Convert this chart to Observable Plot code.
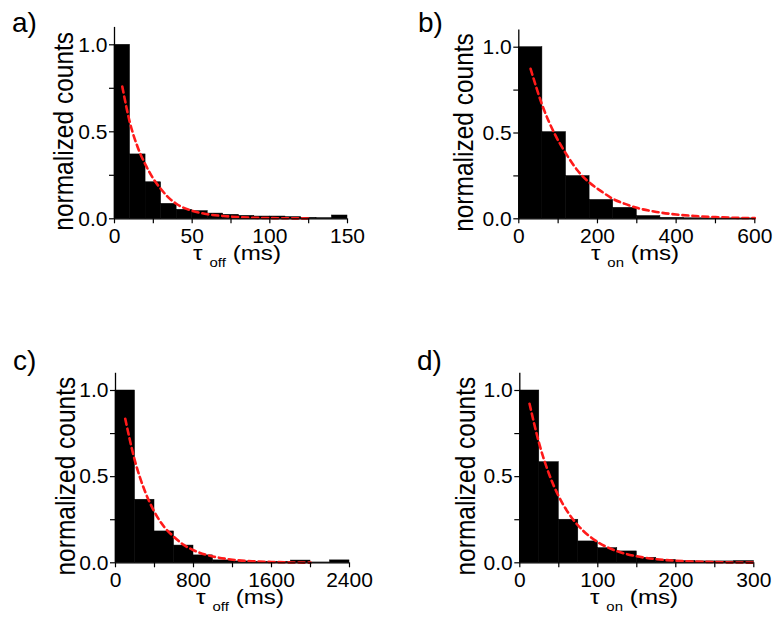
<!DOCTYPE html>
<html><head><meta charset="utf-8">
<script src="https://cdn.jsdelivr.net/npm/d3@7"></script>
<script src="https://cdn.jsdelivr.net/npm/@observablehq/plot@0.6"></script>
<style>
body{margin:0;background:#fff;}
#wrap{position:relative;width:775px;height:620px;overflow:hidden;background:#fff;}
#wrap svg{position:absolute;overflow:visible;}
</style></head><body><div id="wrap"></div>
<script>
// ---- data ----
const panelNames = ["a)", "b)", "c)", "d)"];
const xSubs = ["off", "on", "off", "on"];
const yTickMajor = [0, 0.5, 1.0];
const yTickMinor = [0.25, 0.75];

// a) tau_off histogram
const aEdges = [0,10,20,30,40,50,60,70,80,90,100,110,120,130,140,150];
const aCounts = [1.0,0.37,0.21,0.086,0.052,0.044,0.03,0.023,0.017,0.013,0.013,0.01,0.006,0.004,0.019];
const aFitT = [5,10,15,20,25,30,35,40,50,60,70,80,90,100,110,125];
const aFitY = [0.76,0.55,0.41,0.31,0.23,0.17,0.12,0.085,0.046,0.026,0.016,0.01,0.006,0.004,0.003,0.002];
const aTicks = [0,50,100,150];
const aMinor = [25,75,125];

// b) tau_on histogram
const bEdges = [0,60,120,180,240,300,360,420,480,540,600];
const bCounts = [1.0,0.505,0.249,0.11,0.064,0.016,0.006,0.003,0.002,0.002];
const bFitT = [30,60,90,120,150,180,210,240,270,300,350,400,450,500,550,600];
const bFitY = [0.874,0.66,0.50,0.38,0.28,0.21,0.16,0.115,0.087,0.064,0.04,0.025,0.016,0.01,0.006,0.004];
const bTicks = [0,200,400,600];
const bMinor = [100,300,500];

// c) tau_off histogram
const cEdges = [0,200,400,600,800,1000,1200,1400,1600,1800,2000,2200,2400];
const cCounts = [1.0,0.366,0.182,0.10,0.043,0.014,0.008,0.006,0.006,0.013,0.002,0.014];
const cFitT = [100,200,300,400,500,600,700,800,1000,1200,1400,1600,1800,2000];
const cFitY = [0.836,0.59,0.418,0.295,0.208,0.15,0.104,0.073,0.037,0.018,0.009,0.005,0.002,0.001];
const cTicks = [0,800,1600,2400];
const cMinor = [400,1200,2000];

// d) tau_on histogram
const dEdges = [0,25,50,75,100,125,150,175,200,225,250,275,300];
const dCounts = [1.0,0.584,0.25,0.124,0.085,0.066,0.029,0.017,0.01,0.008,0.008,0.01];
const dFitT = [12.5,25,37.5,50,62.5,75,87.5,100,125,150,175,200,225,250,275,300];
const dFitY = [0.923,0.69,0.515,0.385,0.288,0.215,0.161,0.12,0.067,0.038,0.021,0.012,0.007,0.004,0.002,0.001];
const dTicks = [0,100,200,300];
const dMinor = [50,150,250];

// ---- layout (page geometry) ----
const FONT = "Liberation Sans, Arial, Helvetica, sans-serif";
const layout = [
  {left:0,   top:0,   w:390, h:310, x0:114,   x1:347,   y0:218.3, y1:44.3, nameX:12, nameY:32, yLabX:73, xLabC:237},
  {left:390, top:0,   w:385, h:310, x0:518.3, x1:754.3, y0:218.3, y1:46.7, nameX:418, nameY:32, yLabX:473, xLabC:635},
  {left:0,   top:330, w:390, h:290, x0:115,   x1:349,   y0:562.3, y1:390,  nameX:13, nameY:370, yLabX:75, xLabC:240},
  {left:390, top:330, w:385, h:290, x0:519.3, x1:753.3, y0:562.3, y1:390,  nameX:417, nameY:370, yLabX:475, xLabC:634}
];
const yTop = 1.1;

const sets = [
  [aEdges,aCounts,aFitT,aFitY,aTicks,aMinor],
  [bEdges,bCounts,bFitT,bFitY,bTicks,bMinor],
  [cEdges,cCounts,cFitT,cFitY,cTicks,cMinor],
  [dEdges,dCounts,dFitT,dFitY,dTicks,dMinor]
];

const wrap = document.getElementById("wrap");

sets.forEach(([edges,counts,fitT,fitY,ticks,minor], i) => {
  const L = layout[i];
  const unit = L.y0 - L.y1;
  const mt = (L.y0 - yTop*unit) - L.top;
  const mb = L.h - (L.y0 - L.top);
  const ml = L.x0 - L.left;
  const mr = L.w - (L.x1 - L.left);
  const bars = counts.map((c,k) => ({x1: edges[k], x2: edges[k+1], y: c}));
  const fit = fitT.map((t,k) => ({t, y: fitY[k]}));
  const xmax = edges[edges.length-1];

  const svg = Plot.plot({
    width: L.w, height: L.h,
    marginLeft: ml, marginRight: mr, marginTop: mt, marginBottom: mb,
    style: {fontFamily: FONT, fontSize: "21px", color: "#000", background: "transparent", overflow: "visible"},
    x: {domain: [0, xmax], label: null},
    y: {domain: [0, yTop], label: null},
    marks: [
      Plot.rectY(bars, {x1: "x1", x2: "x2", y: "y", fill: "#000", stroke: "#000", strokeWidth: 0.5}),
      Plot.line(fit, {x: "t", y: "y", stroke: "#ff1a1a", strokeWidth: 2.6, strokeDasharray: "6,4", curve: "monotone-x"}),
      Plot.ruleX([0], {stroke: "#000", strokeWidth: 1.3}),
      Plot.ruleY([0], {stroke: "#000", strokeWidth: 1.3}),
      Plot.axisX({ticks: ticks, tickSize: 5, tickPadding: 4, fontSize: 21, tickFormat: d => String(d), label: null, stroke: "#000", strokeWidth: 1.2}),
      Plot.axisX({ticks: minor, tickSize: 5, tickFormat: () => "", label: null, stroke: "#000", strokeWidth: 1.2}),
      Plot.axisY({ticks: yTickMajor, tickSize: 5, tickPadding: 2, fontSize: 21, tickFormat: d => d.toFixed(1), label: null, stroke: "#000", strokeWidth: 1.2}),
      Plot.axisY({ticks: yTickMinor, tickSize: 5, tickFormat: () => "", label: null, stroke: "#000", strokeWidth: 1.2})
    ]
  });
  svg.style.left = L.left + "px";
  svg.style.top = L.top + "px";

  const s = d3.select(svg);
  // panel letter
  s.append("text")
    .attr("x", L.nameX - L.left).attr("y", L.nameY - L.top)
    .attr("text-anchor", "start")
    .attr("font-family", FONT).attr("font-size", 28).attr("fill", "#000")
    .text(panelNames[i]);
  // y label
  const yc = (L.y0 - 0.5*unit) - L.top;
  s.append("text")
    .attr("transform", `translate(${L.yLabX - L.left},${yc}) rotate(-90) scale(1,1.12)`)
    .attr("text-anchor", "middle")
    .attr("font-family", FONT).attr("font-size", 24.5).attr("fill", "#000")
    .text("normalized counts");
  // x label with subscript
  const xl = s.append("text")
    .attr("transform", `translate(${L.xLabC - L.left},${L.y0 - L.top + 42}) scale(1.15,1)`)
    .attr("text-anchor", "middle")
    .attr("font-family", FONT).attr("font-size", 21).attr("fill", "#000");
  xl.append("tspan").text("τ");
  xl.append("tspan").attr("dx", 6).attr("dy", 7).attr("font-size", 13).text(xSubs[i]);
  xl.append("tspan").attr("dx", 6).attr("dy", -7).text("(ms)");

  wrap.appendChild(svg);
});
</script></body></html>
